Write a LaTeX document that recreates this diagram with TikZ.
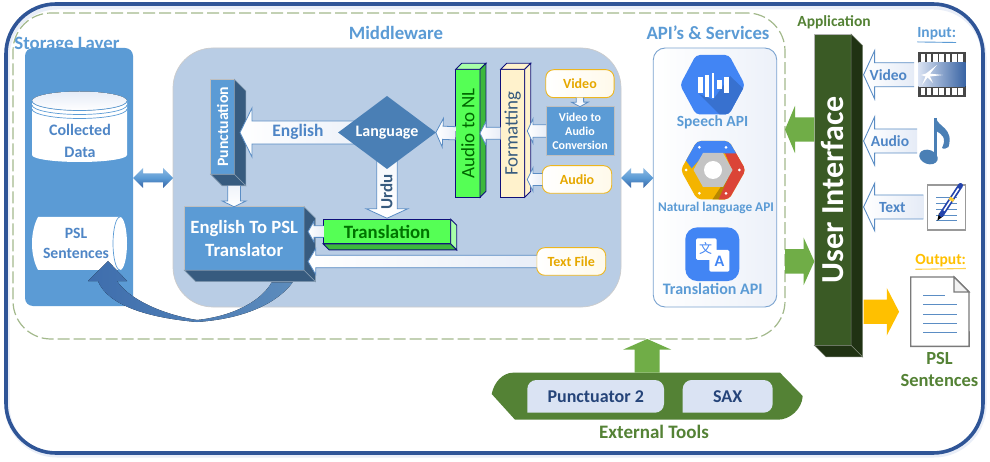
\documentclass[tikz,border=0pt]{standalone}
\usepackage{fontspec}
\usepackage{graphicx}
\setmainfont{Carlito}
\newfontfamily\cjkfont{Noto Sans CJK SC}
\usetikzlibrary{calc,shapes.geometric,shapes.misc}
\definecolor{frameblue}{HTML}{2F5597}
\definecolor{dashgreen}{HTML}{A3B98C}
\definecolor{sky}{HTML}{5B9BD5}
\definecolor{midpanel}{HTML}{B9CDE5}
\definecolor{txtblue}{HTML}{4F86C6}
\definecolor{steel}{HTML}{375B7F}
\definecolor{diam}{HTML}{4A7FB5}
\definecolor{lime}{HTML}{55FF55}
\definecolor{limedark}{HTML}{3DB83D}
\definecolor{limelight}{HTML}{A8FFA8}
\definecolor{navy}{HTML}{10107A}
\definecolor{cream}{HTML}{FFF2CC}
\definecolor{amber}{HTML}{EDB61F}
\definecolor{ambertxt}{HTML}{E6A800}
\definecolor{apigreen}{HTML}{70AD47}
\definecolor{toolgreen}{HTML}{548235}
\definecolor{uigreen}{HTML}{3A5A25}
\definecolor{uidark}{HTML}{203213}
\definecolor{gold}{HTML}{FFC000}
\definecolor{gblue}{HTML}{4285F4}
\definecolor{gred}{HTML}{DB4437}
\definecolor{gyellow}{HTML}{F4B400}
\definecolor{paper}{HTML}{DAE3F3}
\definecolor{linkline}{HTML}{5B8DC4}
\newcommand\fs[1]{\fontsize{#1}{#1}\selectfont\bfseries}
% block arrow: open at the tail, from #2 to #3; shaft half #4, head half #5, head length #6
\newcommand\barrow[6][]{\draw[#1] let \p1=#2,\p2=#3,\n1={atan2(\y2-\y1,\x2-\x1)},\n2={veclen(\x2-\x1,\y2-\y1)} in
  [shift={(\p1)},rotate=\n1] (0,-#4) -- (\n2-#6,-#4) -- (\n2-#6,-#5) -- (\n2,0) -- (\n2-#6,#5) -- (\n2-#6,#4) -- (0,#4);}
% double-headed block arrow
\newcommand\dbarrow[6][]{\draw[#1] let \p1=#2,\p2=#3,\n2={veclen(\x2-\x1,\y2-\y1)} in
  [shift={(\p1)}] (0,0) -- (#6,-#5) -- (#6,-#4) -- (\n2-#6,-#4) -- (\n2-#6,-#5) -- (\n2,0) -- (\n2-#6,#5) -- (\n2-#6,#4) -- (#6,#4) -- (#6,#5) -- cycle;}
% depth faces
\newcommand\depthdown[3]{%
  \draw[fill=#3,draw=#3!60!white,line width=.6] (#1.north east) -- ($(#1.north east)+(#2,#2)$) -- ($(#1.south east)+(#2,#2)$) -- (#1.south east) -- cycle;
  \draw[fill=#3,draw=#3!60!white,line width=.6] (#1.south west) -- ($(#1.south west)+(#2,#2)$) -- ($(#1.south east)+(#2,#2)$) -- (#1.south east) -- cycle;}
\newcommand\depthup[4]{%
  \draw[fill=#3,draw=navy,line width=.9] (#1.north west) -- ($(#1.north west)+(#2,-#2)$) -- ($(#1.north east)+(#2,-#2)$) -- (#1.north east) -- cycle;
  \draw[fill=#4,draw=navy,line width=.9] (#1.north east) -- ($(#1.north east)+(#2,-#2)$) -- ($(#1.south east)+(#2,-#2)$) -- (#1.south east) -- cycle;}
\pgfdeclarelayer{back}\pgfdeclarelayer{top}
\pgfsetlayers{back,main,top}
\tikzset{
  txt/.style={inner sep=0pt,outer sep=0pt,align=center},
  titleblue/.style={txt,text=sky,font=\fs{18.8}},
  boxnode/.style={rectangle,inner sep=0pt,outer sep=0pt,align=center},
  whitearrow/.style={draw=linkline,line width=.8,left color=white,right color=paper!60!white},
  vertarrow/.style={draw=linkline,line width=.8,top color=paper!40!white,bottom color=white},
  inputarrow/.style={draw=linkline,line width=.9,left color=white,right color=paper!70!white},
  pill/.style={boxnode,rounded corners=8pt,draw=amber,line width=.9,left color=white,right color=cream!40!white,text=ambertxt},
  tool/.style={boxnode,text=frameblue!80!black,font=\fs{18}},
  dblarrow/.style={draw=none,top color=sky!70!white,bottom color=frameblue!80!sky,middle color=sky},
}
\begin{document}
\begin{tikzpicture}[x=1pt,y=-1pt]
\useasboundingbox (0,0) rectangle (990,462);

\begin{pgfonlayer}{back}
\fill[white] (0,0) rectangle (990,462);
% outer and dashed frames
\draw[line width=5,paper!60!white,rounded corners=50pt] (7,7) rectangle (984,455);
\node[boxnode,draw=frameblue,line width=3.6,rounded corners=50pt,minimum width=977,minimum height=449] (outer) at (494.5,228.5) {};
\node[boxnode,draw=dashgreen,line width=1.2,dash pattern=on 12pt off 4pt,rounded corners=38pt,minimum width=772,minimum height=326] (dashframe) at (399,176) {};

% titles
\node[titleblue] (stortitle) at (67,45) {Storage Layer};
\node[titleblue] (midtitle) at (396,33) {Middleware};
\node[titleblue] (apititle) at (708,33) {API’s \& Services};
\node[txt,text=toolgreen,font=\fs{15.5}] (apptitle) at (834,22) {Application};

% panels
\node[boxnode,fill=sky,rounded corners=8pt,minimum width=108,minimum height=258] (storage) at (79,177) {};
\node[boxnode,fill=midpanel,draw=black!20,line width=.7,rounded corners=40pt,minimum width=448,minimum height=259] (middle) at (397,177.5) {};
\node[boxnode,draw=linkline!80!white,line width=.9,left color=white,right color=paper!50!white,rounded corners=12pt,minimum width=123.5,minimum height=259] (api) at (715,177.5) {};

% storage cylinder
\fill[white] (32,101) -- (32,155) arc[start angle=180,end angle=0,x radius=47.5,y radius=7] -- (127,101) -- cycle;
\fill[top color=paper!70!white,bottom color=white] (32,101) arc[start angle=180,end angle=0,x radius=47.5,y radius=9.5] arc[start angle=0,end angle=-180,x radius=47.5,y radius=9.5];
\draw[sky,line width=.7] (32,101) arc[start angle=180,end angle=0,x radius=47.5,y radius=9.5];
\draw[sky,line width=.7] (32,105) arc[start angle=180,end angle=0,x radius=47.5,y radius=9.5];
\draw[sky,line width=.7] (32,109) arc[start angle=180,end angle=0,x radius=47.5,y radius=9.5];
\node[txt,text=txtblue,font=\fs{16}] (coll) at (80,141) {Collected\\[6pt]Data};

% sentences cylinder
\path[fill=white] (38,217) -- (120,217) arc[start angle=-90,end angle=90,x radius=7,y radius=26.5] -- (38,270) .. controls (30,255) and (30,232) .. (38,217) -- cycle;
\draw[sky,line width=.7] (120,217) arc[start angle=270,end angle=90,x radius=7,y radius=26.5];
\node[txt,text=txtblue,font=\fs{15.7}] (pslc) at (76,243.5) {PSL\\[5pt]Sentences};
\end{pgfonlayer}

% middleware boxes
\node[boxnode,fill=sky,draw=black!25,line width=.6,minimum width=23.6,minimum height=95,text=white,font=\fs{15.8}] (punct) at (222.5,126.8) {\rotatebox{90}{Punctuation}};
\depthdown{punct}{11.5}{steel}
\coordinate (punctTip) at ($(punct.east)+(5.7,0)$);

\node[boxnode,fill=sky,draw=black!25,line width=.6,minimum width=119.7,minimum height=63.5,text=white,font=\fs{18.7}] (tsl) at (244.2,238.5) {English To PSL\\[4.5pt]Translator};
\depthdown{tsl}{11.4}{steel}
\coordinate (tslTip) at ($(tsl.east)+(4,0)$);

\node[boxnode,fill=lime,draw=navy,line width=.9,minimum width=127.4,minimum height=24.7,text=green!45!black,font=\fs{18.8}] (trl) at (387,231.6) {Translation};
\draw[fill=limelight,draw=navy,line width=.9] (trl.north east) -- ($(trl.north east)+(6,6)$) -- ($(trl.south east)+(6,6)$) -- (trl.south east) -- cycle;
\draw[fill=limedark,draw=navy,line width=.9] (trl.south west) -- ($(trl.south west)+(6,6)$) -- ($(trl.south east)+(6,6)$) -- (trl.south east) -- cycle;

\node[boxnode,fill=lime,draw=navy,line width=.9,minimum width=24.3,minimum height=128,text=green!40!black,font=\fontsize{19}{19}\selectfont] (nl) at (467.8,133.3) {\rotatebox{90}{Audio to NL}};
\depthup{nl}{6}{limelight}{limedark}
\node[boxnode,fill=cream,draw=navy,line width=.9,minimum width=24,minimum height=128,text=steel,font=\fontsize{19}{19}\selectfont] (fmt) at (512.7,133.3) {\rotatebox{90}{Formatting}};
\depthup{fmt}{6}{cream}{cream}

\node[pill,minimum width=68.3,minimum height=28,font=\fs{14}] (vid) at (579.9,83.7) {Video};
\node[boxnode,fill=sky,draw=black!25,line width=.7,minimum width=68,minimum height=48.6,text=white,font=\fs{12}] (conv) at (580,131) {Video to\\[2pt]Audio\\[2pt]Conversion};
\node[pill,minimum width=69.4,minimum height=27.6,font=\fs{14}] (aud) at (577,179.5) {Audio};
\node[pill,minimum width=69,minimum height=27.6,font=\fs{14}] (tf) at (571.2,261.5) {Text File};

\begin{pgfonlayer}{top}
\node[diamond,aspect=1.33,inner sep=0pt,outer sep=0pt,fill=diam,minimum width=97.7,minimum height=73,text=white,font=\fs{16}] (lang) at (387,132.5) {Language};
\end{pgfonlayer}

% block arrows inside the middleware
\barrow[whitearrow]{(lang.center)}{(lang.center -| punctTip)}{11.5}{24.5}{12}
\node[txt,text=txtblue,font=\fs{17.5}] (englab) at (298,132) {English};
\barrow[vertarrow]{(lang.center)}{($(lang.center |- trl.north)+(0,-1)$)}{10.3}{20.8}{9.5}
\node[txt,text=steel,font=\fs{17},rotate=90] (urdulab) at (386.5,192) {Urdu};
\barrow[whitearrow]{(nl.west)}{(lang.east)}{6.6}{14.5}{7}
\barrow[whitearrow]{(fmt.west)}{(nl.east)}{6}{11.7}{6}
\coordinate (fmtTip) at ($(fmt.east)+(2.6,0)$);
\barrow[whitearrow]{(conv.west)}{(conv.west -| fmtTip)}{6.3}{12.3}{5.7}
\barrow[whitearrow]{(aud.west)}{(aud.west -| fmtTip)}{6}{11.8}{5.7}
\barrow[vertarrow]{(vid.south)}{(conv.north)}{3.7}{8.3}{4.5}
\barrow[vertarrow]{($(punct.south)+(11.6,11.5)$)}{(tsl.north -| {$(punct.south)+(11.6,0)$})}{6.3}{11.8}{5.7}
\barrow[whitearrow]{(trl.west)}{(trl.west -| tslTip)}{5.8}{10.5}{6}
\barrow[whitearrow]{(tf.west)}{(tf.west -| tslTip)}{6.2}{13}{7.7}

% curved arrow into the sentences store
\begin{pgfonlayer}{back}
\coordinate (curveTip) at (108,261);
\fill[left color=frameblue!65!sky,right color=diam!90!white]
  ($(tsl.south east)+(-11.3,12)$) .. controls (282,297) and (255,318) .. (197,322)
  .. controls (150,318) and (108,306) .. (98,281) -- (88,281) -- (curveTip) -- (127,281) -- (117,281)
  .. controls (128,298) and (160,314) .. (197,320) .. controls (235,316) and (262,300) .. ($(tsl.south east)+(-32.3,12)$) -- cycle;
\end{pgfonlayer}

% double arrows
\dbarrow[dblarrow]{(storage.east |- 0,178)}{(middle.west |- 0,178)}{4.5}{10}{10}
\dbarrow[dblarrow]{(middle.east |- 0,178)}{(api.west |- 0,178)}{4.5}{10}{10}

% API icons
\begin{scope}
\fill[gblue,rounded corners=4pt] (680,85) -- (696,55) -- (729,55) -- (745,85) -- (729,114.5) -- (696,114.5) -- cycle;
\begin{scope}
\clip[rounded corners=4pt] (680,85) -- (696,55) -- (729,55) -- (745,85) -- (729,114.5) -- (696,114.5) -- cycle;
\fill[gblue!85!black] (699,94) -- (709,98) -- (713,100) -- (730,76) -- (750,95) -- (730,120) -- (720,115) -- cycle;
\end{scope}
\fill[white] (697.7,77.3) rectangle (702.5,92.7);
\fill[white] (705,75) rectangle (709,96.7);
\fill[white] (711.5,72.7) rectangle (713.5,98.3);
\fill[white] (717.3,80) rectangle (722.3,89.3);
\fill[white] (724.3,76.7) rectangle (729,92.7);
\end{scope}
\node[txt,text=sky,font=\fs{15.5}] (speech) at (712.5,122) {Speech API};

\begin{scope}
\clip[rounded corners=4pt] (680.7,170) -- (697,141) -- (729,141) -- (745.7,170) -- (729,199.3) -- (697,199.3) -- cycle;
\fill[gyellow] (675,135) rectangle (750,205);
\fill[gyellow!75!black] (712,200) -- (732,170) -- (725,200) -- cycle;
\fill[gred] (725,153.3) -- (737,150) -- (750,170) -- (732,205) -- (716,205) -- (732,170) -- cycle;
\fill[gblue] (690,135) -- (740,135) -- (737,153.3) -- (705,153.3) -- (691.7,168.3) -- (684,158) -- cycle;
\end{scope}
\fill[black!23] (703,153) -- (723,153) -- (732.5,170) -- (723,187) -- (703,187) -- (693.5,170) -- cycle;
\fill[white] (713,170) circle[radius=9];
\foreach \dx/\dy in {699.3/147.3,726/147.3,739.3/170,726/193.3,699.3/193.3,686/170}{\fill[white] (\dx,\dy) circle[radius=1.5];}
\node[txt,text=sky,font=\fs{13.3}] (nlapi) at (716,207.7) {Natural language API};

\node[boxnode,fill=gblue,rounded corners=12pt,minimum width=54,minimum height=53.7] (trico) at (712.3,254.2) {};
\fill[white,rounded corners=1.5pt] (696,238.3) rectangle (716.7,260);
\fill[white,rounded corners=1.5pt] (709.3,250) rectangle (729.3,271.7);
\node[txt,text=gblue,font=\cjkfont\fontsize{13}{13}\selectfont] (wen) at (705.5,248.5) {文};
\node[txt,text=gblue,font=\fs{16}] (alet) at (719.5,261) {A};
\node[txt,text=sky,font=\fs{16}] (trapi) at (712.7,289.3) {Translation API};

% user interface
\node[boxnode,fill=uigreen,draw=black!30,line width=.8,minimum width=36.7,minimum height=311.3,text=white,font=\fs{32}] (ui) at (832.7,189.7) {\rotatebox{90}{User Interface}};
\depthdown{ui}{11.5}{uidark}
\coordinate (uiR) at ($(ui.east)+(12.5,0)$);

% inputs
\node[boxnode,fill=black!72,minimum width=47.4,minimum height=45] (film) at (942,74.8) {};
\fill[left color=paper,right color=frameblue!80!sky] (918.3,63) rectangle (965.7,87);
\foreach \i in {0,...,6}{
  \fill[white] (920.5+\i*6.3,54.5) rectangle +(4.6,7.3);
  \fill[white] (920.5+\i*6.3,88) rectangle +(4.6,7.3);
}
\fill[white] (921,75) -- (926,73.5) -- (937,65) -- (930,73.7) -- (943,75) -- (930,76.5) -- (933,83) -- (927.5,77.5) -- (922,85) -- (925.5,76.5) -- cycle;

\coordinate (vs) at (914,74.8);
\barrow[inputarrow]{(vs)}{(vs -| uiR)}{12}{24}{11}
\node[txt,text=txtblue,font=\fs{15.5}] (vidlab) at (888.3,75) {Video};
\coordinate (as) at (917,141);
\barrow[inputarrow]{(as)}{(as -| uiR)}{12}{24}{11}
\node[txt,text=txtblue,font=\fs{15.5}] (audlab) at (890,141) {Audio};
\coordinate (ts) at (923.3,207);
\barrow[inputarrow]{(ts)}{(ts -| uiR)}{12}{23.5}{11}
\node[txt,text=txtblue,font=\fs{15.5}] (txtlab) at (892.3,207.5) {Text};

% music note
\fill[diam,rotate around={-20:(928.5,157)}] (928.5,157) ellipse[x radius=9.5,y radius=7];
\fill[diam] (933.5,118) -- (937,118) -- (937,157) -- (933.5,157) -- cycle;
\fill[diam] (936,118) .. controls (938,127) and (954,128) .. (948.5,147) .. controls (947,149) and (943,149) .. (942,148) .. controls (947,138) and (942,134) .. (936,131) -- cycle;

% text page with pen
\node[boxnode,fill=white,draw=black!40,line width=1.4,minimum width=38.4,minimum height=45] (page) at (946.5,207.5) {};
\foreach \ly in {197.3,203.3,209.3,215,220}{\draw[linkline,line width=.9] (936,\ly) -- (956.7,\ly);}
\fill[black] (937.3,220.7) -- (939,213) -- (943.5,216) -- cycle;
\draw[frameblue!80!blue,line width=5,line cap=round] (941.5,214.5) -- (960.5,185.5);
\draw[white,line width=1.5] (944,210.7) -- (958.5,188.5);
\draw[gold!80!white,line width=5] (950.7,200.6) -- (952.4,198);

% outputs
\node[boxnode,minimum width=58.3,minimum height=69.3] (doc) at (939.9,311.7) {};
\draw[fill=white,draw=black!52,line width=1.4] (doc.north west) -- (954,277) -- (969,292) -- (doc.south east) -- (doc.south west) -- cycle;
\draw[fill=black!5,draw=black!52,line width=1.1] (954,277) -- (954,292) -- (969,292) -- cycle;
\draw[linkline,line width=1] (923.3,295.7) -- (945,295.7);
\foreach \ly in {304.7,314.3,323.3,332}{\draw[linkline,line width=1] (923.3,\ly) -- (956.7,\ly);}

\node[txt,text=sky,font=\fs{15.5}] (inputlab) at (936.7,33.7) {Input:};
\draw[sky,line width=.9] (inputlab.south west) ++(0,2) -- (inputlab.south east |- 0,42.5);
\node[txt,text=gold,font=\fs{15.5}] (outlab) at (940.7,261) {Output:};
\draw[gold!70!white,line width=1.1] (outlab.south west) ++(0,2) -- (outlab.south east |- 0,268.5);
\node[txt,text=toolgreen,font=\fs{18.5}] (pslout) at (939.5,369.5) {PSL\\[4pt]Sentences};

% external tools
\node[boxnode,minimum width=311,minimum height=47] (tools) at (647.2,396.2) {};
\draw[fill=toolgreen,draw=none] (491.7,394) .. controls (494,382) and (503,372.7) .. (513,372.7) -- (780,372.7) -- (802.7,396) .. controls (802,409) and (790,419.7) .. (778,419.7) -- (515,419.7) -- cycle;
\fill[paper,rounded corners=9pt] (527.3,412.7) -- (527.3,380) -- (664,380) -- (664,412.7) [sharp corners] -- cycle;
\node[tool,minimum width=136.7,minimum height=32.7] (punc) at (595.7,396.3) {Punctuator 2};
\fill[paper,rounded corners=9pt] (682.7,412.7) -- (682.7,380) -- (772.7,380) -- (772.7,412.7) [sharp corners] -- cycle;
\node[tool,minimum width=90,minimum height=32.7] (sax) at (727.7,396.3) {SAX};
\node[txt,text=toolgreen,font=\fs{19}] (extlab) at (654,431.5) {External Tools};

% coloured block arrows
\coordinate (outTip) at ($(doc.west)+(-11.7,0)$);
\barrow[fill=apigreen,draw=none]{(ui.west |- 0,129.5)}{(dashframe.east |- 0,129.5)}{12.2}{23.7}{10}
\barrow[fill=apigreen,draw=none]{(dashframe.east |- 0,261.4)}{(ui.west |- 0,261.4)}{12.2}{23.7}{10.7}
\barrow[fill=apigreen,draw=none]{(tools.north |- 0,372.7)}{(tools.north |- dashframe.south)}{12.5}{24.2}{10.7}
\barrow[fill=gold,draw=none]{(uiR |- outTip)}{(outTip)}{12.2}{23.8}{12.3}
\end{tikzpicture}
\end{document}
